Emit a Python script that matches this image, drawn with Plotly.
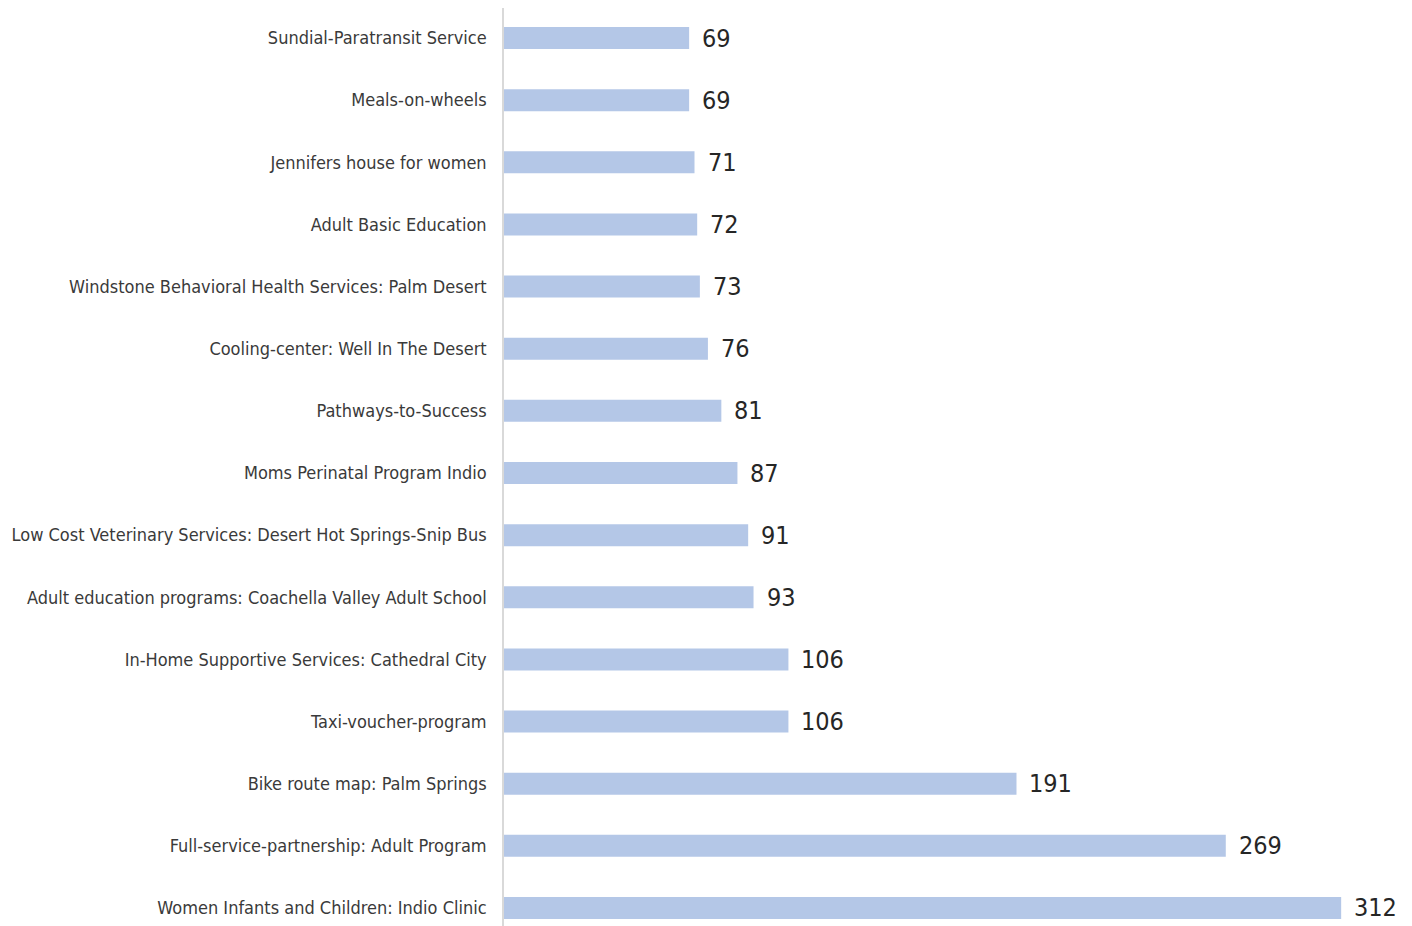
import plotly.graph_objects as go

categories = [
    "Sundial-Paratransit Service",
    "Meals-on-wheels",
    "Jennifers house for women",
    "Adult Basic Education",
    "Windstone Behavioral Health Services: Palm Desert",
    "Cooling-center: Well In The Desert",
    "Pathways-to-Success",
    "Moms Perinatal Program Indio",
    "Low Cost Veterinary Services: Desert Hot Springs-Snip Bus",
    "Adult education programs: Coachella Valley Adult School",
    "In-Home Supportive Services: Cathedral City",
    "Taxi-voucher-program",
    "Bike route map: Palm Springs",
    "Full-service-partnership: Adult Program",
    "Women Infants and Children: Indio Clinic",
]
values = [69, 69, 71, 72, 73, 76, 81, 87, 91, 93, 106, 106, 191, 269, 312]

FONT = "Liberation Sans Narrow, DejaVu Sans Condensed, Arial Narrow, sans-serif"

fig = go.Figure(
    go.Bar(
        x=values,
        y=categories,
        orientation="h",
        marker=dict(color="#B4C7E7", line=dict(width=0)),
        hoverinfo="skip",
    )
)

for v, c in zip(values, categories):
    fig.add_annotation(
        x=v, y=c, text=str(v), showarrow=False, xanchor="left", yanchor="middle",
        xshift=11, font=dict(family=FONT, size=25, color="#262626"),
    )

fig.update_layout(
    width=1404,
    height=918,
    margin=dict(l=496, r=0, t=0, b=0, autoexpand=False),
    paper_bgcolor="white",
    plot_bgcolor="white",
    bargap=0.646,
    showlegend=False,
    font=dict(family=FONT, size=18, color="#3A3A3A"),
)
fig.update_xaxes(range=[0, 338.4], visible=False, showgrid=False, zeroline=False)
fig.update_yaxes(
    categoryorder="array",
    categoryarray=categories,
    range=[14.29, -0.483],
    automargin=False,
    showline=True,
    linecolor="#D9D9D9",
    linewidth=1.5,
    showgrid=False,
    zeroline=False,
    ticks="",
    ticklabelstandoff=12,
    tickfont=dict(family=FONT, size=18, color="#3A3A3A"),
)

fig.write_html("out.html")
